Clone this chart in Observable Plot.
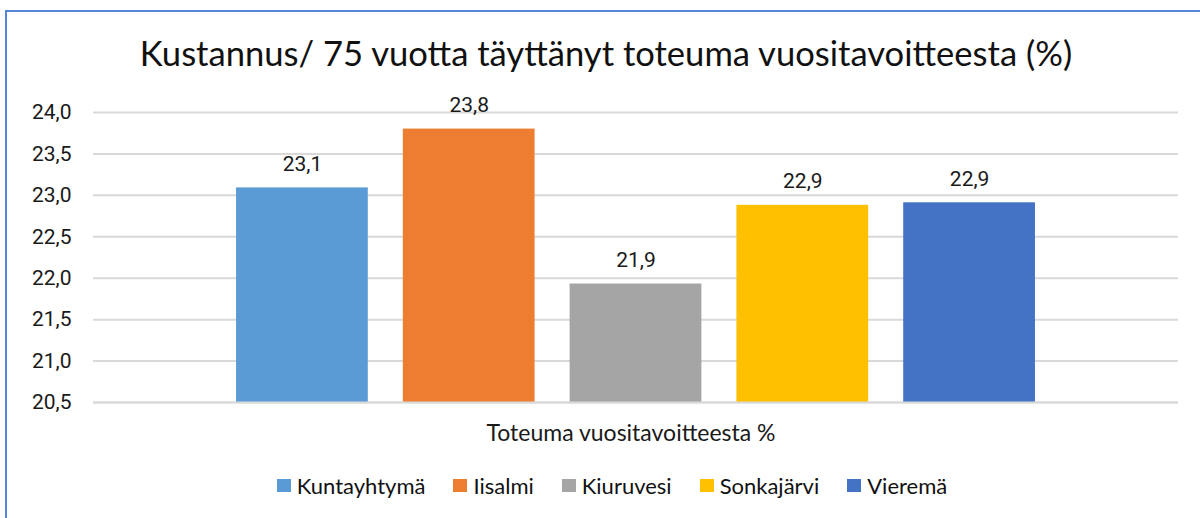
<!DOCTYPE html>
<html>
<head>
<meta charset="utf-8">
<script src="https://cdn.jsdelivr.net/npm/d3@7"></script>
<script src="https://cdn.jsdelivr.net/npm/@observablehq/plot@0.6"></script>
<style>
  html, body { margin: 0; padding: 0; background: #fff; overflow: hidden; }
  #frame { position: absolute; left: 5px; top: 10px; width: 1220px; height: 530px; border: 2px solid #5585d6; box-sizing: border-box; background: #fff; }
  #title { position: absolute; left: 0; top: 20px; width: 1198px; text-align: center; font-family: Lato, sans-serif; font-size: 34.6px; color: #111; white-space: nowrap; }
  #chart { position: absolute; left: 0; top: 78px; }
  #legend { position: absolute; left: 0; top: 460px; width: 1210px; display: flex; justify-content: center; font-family: Lato, sans-serif; font-size: 22px; color: #111; }
  .item { display: flex; align-items: center; margin: 0 14px; }
  .sw { width: 14px; height: 13px; margin-right: 6px; }
</style>
</head>
<body>
<div id="frame">
  <div id="title"></div>
  <div id="chart"></div>
  <div id="legend"></div>
</div>
<script>
const titleText = "Kustannus/ 75 vuotta täyttänyt toteuma vuositavoitteesta (%)";
const categoryLabel = "Toteuma vuositavoitteesta %";
const series = ["Kuntayhtymä", "Iisalmi", "Kiuruvesi", "Sonkajärvi", "Vieremä"];
const values = [23.09, 23.80, 21.93, 22.88, 22.91];
const labels = ["23,1", "23,8", "21,9", "22,9", "22,9"];
const colors = ["#5B9BD5", "#ED7D31", "#A5A5A5", "#FFC000", "#4472C4"];
const yTicks = [20.5, 21.0, 21.5, 22.0, 22.5, 23.0, 23.5, 24.0];
const yMin = 20.5, yMax = 24.0;

const data = series.map((s, i) => ({name: s, value: values[i], label: labels[i]}));

document.getElementById("title").textContent = titleText;

const fmt = d => d.toFixed(1).replace(".", ",");

const chart = Plot.plot({
  width: 1200,
  height: 372,
  marginLeft: 86,
  marginRight: 29,
  marginTop: 22,
  marginBottom: 60,
  style: {fontFamily: "Roboto, sans-serif", fontSize: "21px", color: "#1a1a1a", background: "transparent"},
  x: {domain: series, paddingInner: 0.21, paddingOuter: 0.8575, round: false, axis: null},
  y: {domain: [yMin, yMax], ticks: yTicks, tickFormat: fmt, tickSize: 0, tickPadding: 22, label: null},
  color: {domain: series, range: colors},
  marks: [
    Plot.ruleY(yTicks, {stroke: "#d9d9d9", strokeWidth: 2}),
    Plot.rectY(data, {x: "name", y1: yMin, y2: "value", fill: "name"}),
    Plot.ruleY([yMin], {stroke: "#d9d9d9", strokeWidth: 2}),
    Plot.text(data, {x: "name", y: "value", text: "label", dy: -24, fill: "#1a1a1a"}),
    Plot.text([categoryLabel], {frameAnchor: "bottom", text: d => d, dx: -5, dy: 38, fontFamily: "Lato, sans-serif", fontSize: 23, fill: "#1a1a1a"})
  ]
});
document.getElementById("chart").appendChild(chart);

const legend = document.getElementById("legend");
series.forEach((s, i) => {
  const item = document.createElement("div");
  item.className = "item";
  const sw = document.createElement("div");
  sw.className = "sw";
  sw.style.background = colors[i];
  const t = document.createElement("span");
  t.textContent = s;
  item.appendChild(sw);
  item.appendChild(t);
  legend.appendChild(item);
});
</script>
</body>
</html>
